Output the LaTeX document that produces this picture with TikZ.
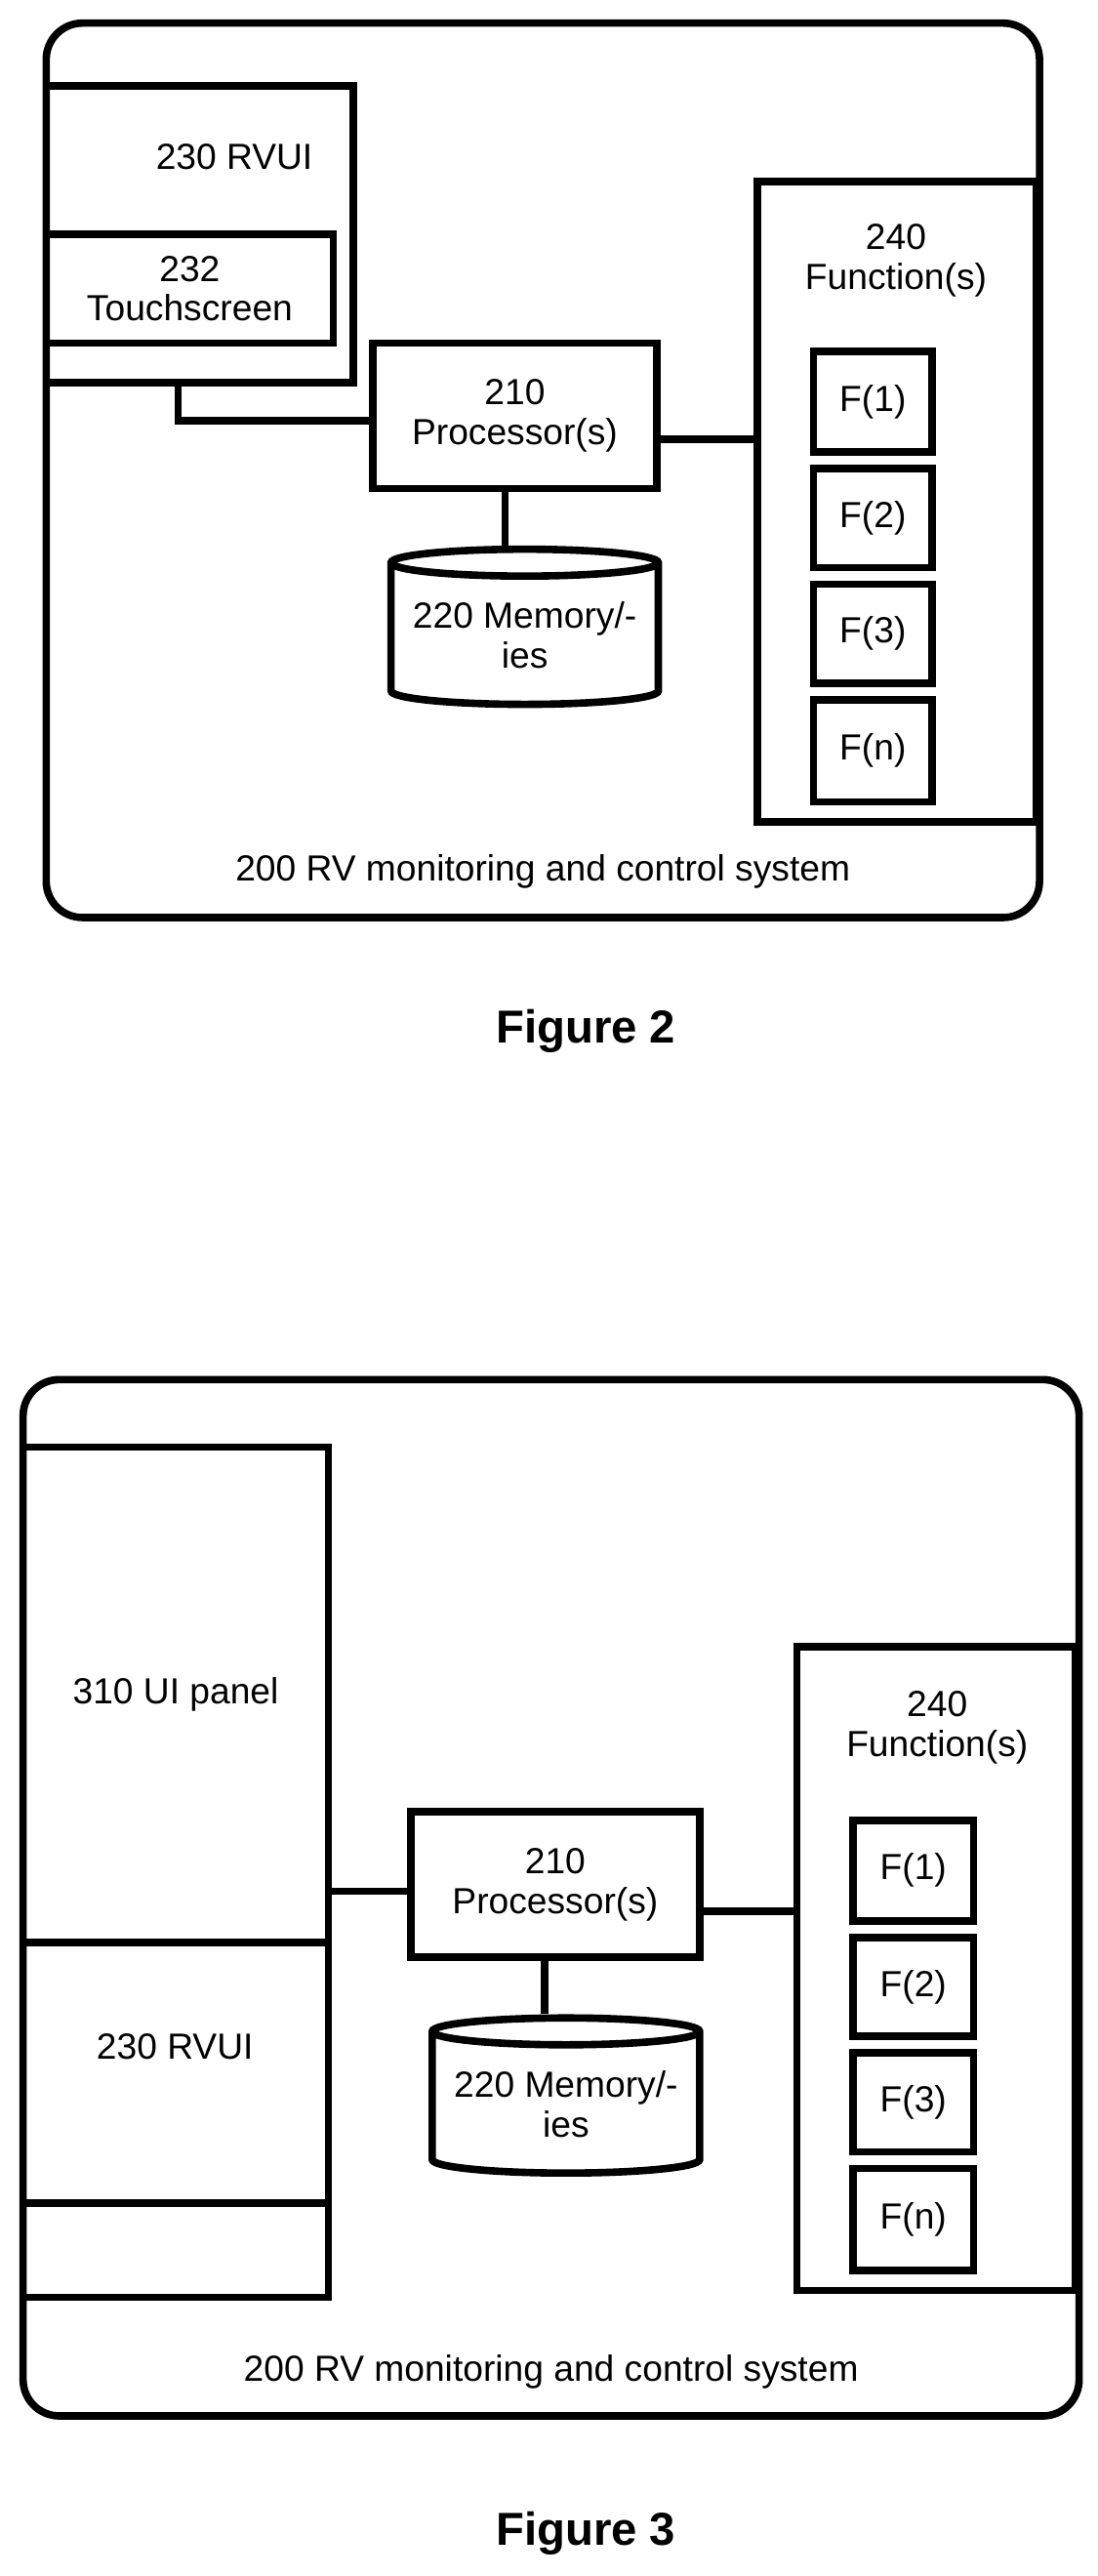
\documentclass[tikz,border=0pt]{standalone}
\usepackage{fontspec}
\setmainfont{Liberation Sans}
\usetikzlibrary{shapes.geometric}
\tikzset{
  blk/.style={draw, line width=4.5pt, inner sep=0pt, align=center},
  mem/.style={draw, line width=4.5pt, cylinder, shape border rotate=90, aspect=0.12,
    minimum width=162pt, minimum height=94pt, inner sep=0pt, align=center},
  wire/.style={line width=4.5pt}
}
\begin{document}
\begin{tikzpicture}[x=1pt,y=-1pt,font=\fontsize{22}{24}\selectfont]
\useasboundingbox (0,0) rectangle (665,1561);
% Figure 2
\draw[line width=4.5pt, rounded corners=22pt] (28,14) rectangle (630,556);
\node[blk, minimum width=186pt, minimum height=180pt] (rvui2) at (121,142) {};
\node at (142,95) {230 RVUI};
\node[blk, minimum width=174pt, minimum height=66pt] (ts2) at (115,175) {232\\Touchscreen};
\node[blk, minimum width=172pt, minimum height=88pt] (proc2) at (312,252) {210\\Processor(s)};
\node[mem] (mem2) at (318,385) {220 Memory/-\\ies};
\node[blk, minimum width=169pt, minimum height=388pt] (fun2) at (543.5,304) {};
\node[align=center] at (543,158) {240\\Function(s)};
\node[blk, minimum width=72pt, minimum height=61pt] (f21) at (529,243.5) {F(1)};
\node[blk, minimum width=72pt, minimum height=60pt] (f22) at (529,314) {F(2)};
\node[blk, minimum width=72pt, minimum height=60pt] (f23) at (529,384) {F(3)};
\node[blk, minimum width=72pt, minimum height=62pt] (f2n) at (529,455) {F(n)};
\draw[wire] (rvui2.south -| 108,0) |- (proc2.west |- 0,255);
\draw[wire] (proc2.south -| 306,0) -- (mem2.top -| 306,0);
\draw[wire] (proc2.east |- 0,266) -- (fun2.west |- 0,266);
\node at (329,528) {200 RV monitoring and control system};
\node[font=\fontsize{28}{32}\selectfont\bfseries] (cap2) at (355,625) {Figure 2};
% Figure 3
\draw[line width=4.5pt, rounded corners=22pt] (14,836) rectangle (654,1464);
\node[blk, minimum width=185pt, minimum height=300pt] (ui3) at (106.5,1027) {310 UI panel};
\node[blk, minimum width=185pt, minimum height=158pt] (rvui3) at (106.5,1256) {};
\node at (106,1240) {230 RVUI};
\node[blk, minimum width=185pt, minimum height=57pt] (low3) at (106.5,1363.5) {};
\node[blk, minimum width=175pt, minimum height=88pt] (proc3) at (336.5,1142) {210\\Processor(s)};
\node[mem] (mem3) at (343,1275) {220 Memory/-\\ies};
\node[blk, minimum width=169pt, minimum height=390pt] (fun3) at (567.5,1193) {};
\node[align=center] at (568,1047) {240\\Function(s)};
\node[blk, minimum width=73pt, minimum height=61pt] (f31) at (553.5,1133.5) {F(1)};
\node[blk, minimum width=73pt, minimum height=60pt] (f32) at (553.5,1204) {F(2)};
\node[blk, minimum width=73pt, minimum height=60pt] (f33) at (553.5,1274) {F(3)};
\node[blk, minimum width=73pt, minimum height=62pt] (f3n) at (553.5,1345) {F(n)};
\draw[wire] (ui3.east |- 0,1146) -- (proc3.west |- 0,1146);
\draw[wire] (proc3.south -| 330,0) -- (mem3.top -| 330,0);
\draw[wire] (proc3.east |- 0,1158) -- (fun3.west |- 0,1158);
\node at (334,1437) {200 RV monitoring and control system};
\node[font=\fontsize{28}{32}\selectfont\bfseries] (cap3) at (355,1535) {Figure 3};
\end{tikzpicture}
\end{document}
